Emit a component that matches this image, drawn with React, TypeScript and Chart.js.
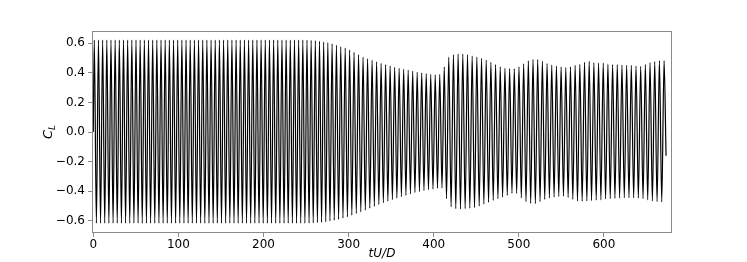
import React, { useEffect, useRef } from "react";
import { Chart, registerables } from "chart.js";

Chart.register(...registerables);

// Time of each positive peak of C_L (tU/D)
const peakTimes = [
  1.2, 6.1, 11.0, 15.9, 20.8, 25.7, 30.6, 35.5, 40.4, 45.3, 50.2, 55.1, 60.0, 64.9, 69.8, 74.7,
  79.6, 84.5, 89.4, 94.3, 99.2, 104.1, 109.0, 113.9, 118.8, 123.7, 128.6, 133.5, 138.4, 143.3,
  148.2, 153.1, 158.0, 162.9, 167.8, 172.7, 177.6, 182.5, 187.4, 192.3, 197.2, 202.1, 207.0,
  211.9, 216.8, 221.7, 226.6, 231.5, 236.4, 241.3, 246.2, 251.1, 256.0, 260.9, 265.8, 270.7,
  275.6,
  280.6, 285.7, 290.8, 296.0, 301.2, 306.4, 311.7, 317.0, 322.3, 327.6, 332.9, 338.2, 343.5,
  348.8, 354.1, 359.4, 364.7, 370.0, 375.3, 380.6, 385.9, 391.2, 396.5, 401.8, 407.1, 412.4,
  417.7,
  423.2, 428.7, 434.2, 439.7, 445.2, 450.7, 456.2, 461.7, 467.2, 472.7, 478.2, 483.7, 489.2,
  494.7, 500.2, 505.7, 511.2, 516.7, 522.2, 527.7, 533.2, 538.7, 544.2, 549.7, 555.2, 560.7,
  566.2, 571.7, 577.2, 582.7, 588.2, 593.7, 599.2, 604.7, 610.2, 615.7, 621.2, 626.7, 632.2,
  637.7, 643.2, 648.7, 654.2, 659.7, 665.2, 670.7,
];

// C_L at each positive peak
const peakValues = [
  0.62, 0.62, 0.62, 0.62, 0.62, 0.62, 0.62, 0.62, 0.62, 0.62, 0.62, 0.62, 0.62, 0.62, 0.62, 0.62,
  0.62, 0.62, 0.62, 0.62, 0.62, 0.62, 0.62, 0.62, 0.62, 0.62, 0.62, 0.62, 0.62, 0.62, 0.62, 0.62,
  0.62, 0.62, 0.62, 0.62, 0.62, 0.62, 0.62, 0.62, 0.62, 0.62, 0.62, 0.62, 0.62, 0.62, 0.62, 0.62,
  0.62, 0.62, 0.62, 0.62, 0.619, 0.617, 0.613, 0.608, 0.603,
  0.595, 0.586, 0.576, 0.566, 0.553, 0.538, 0.522, 0.505, 0.495, 0.485, 0.474, 0.464, 0.455,
  0.446, 0.437, 0.43, 0.424, 0.418, 0.411, 0.405, 0.399, 0.394, 0.39, 0.386, 0.39, 0.44, 0.505,
  0.522, 0.527, 0.526, 0.522, 0.513, 0.506, 0.498, 0.486, 0.471, 0.455, 0.44, 0.43, 0.428,
  0.428, 0.44, 0.46, 0.48, 0.49, 0.489, 0.478, 0.463, 0.452, 0.445, 0.44, 0.435, 0.44, 0.45,
  0.456, 0.47, 0.477, 0.468, 0.466, 0.465, 0.458, 0.455, 0.455, 0.452, 0.45, 0.45, 0.445,
  0.444, 0.455, 0.468, 0.476, 0.482, 0.482,
];

// C_L at each trough (between consecutive peaks)
const troughValues = [
  -0.615, -0.615, -0.615, -0.615, -0.615, -0.615, -0.615, -0.615, -0.615, -0.615, -0.615,
  -0.615, -0.615, -0.615, -0.615, -0.615, -0.615, -0.615, -0.615, -0.615, -0.615, -0.615,
  -0.615, -0.615, -0.615, -0.615, -0.615, -0.615, -0.615, -0.615, -0.615, -0.615, -0.615,
  -0.615, -0.615, -0.615, -0.615, -0.615, -0.615, -0.615, -0.615, -0.615, -0.615, -0.615,
  -0.615, -0.615, -0.615, -0.615, -0.615, -0.615, -0.615, -0.615, -0.614, -0.612, -0.61,
  -0.606, -0.601,
  -0.596, -0.59, -0.582, -0.573, -0.562, -0.55, -0.54, -0.528, -0.515, -0.502, -0.49, -0.478,
  -0.467, -0.457, -0.447, -0.437, -0.428, -0.418, -0.41, -0.403, -0.396, -0.39, -0.386, -0.38,
  -0.378, -0.45, -0.505,
  -0.518, -0.52, -0.518, -0.514, -0.51, -0.5, -0.487, -0.475, -0.462, -0.45, -0.44, -0.428,
  -0.415, -0.415, -0.445, -0.47, -0.482, -0.484, -0.47, -0.455, -0.445, -0.44, -0.435, -0.433,
  -0.442, -0.455, -0.466, -0.468, -0.466, -0.464, -0.46, -0.458, -0.452, -0.45, -0.448, -0.446,
  -0.444, -0.444, -0.444, -0.446, -0.45, -0.458, -0.466, -0.47, -0.472,
];

const startTime = 0;
const startValue = 0.0;
const endTime = 673;
const endValue = -0.16;

const xTicks = [0, 100, 200, 300, 400, 500, 600];
const xTickLabels = ["0", "100", "200", "300", "400", "500", "600"];
const yTicks = [-0.6, -0.4, -0.2, 0.0, 0.2, 0.4, 0.6];
const yTickLabels = ["\u22120.6", "\u22120.4", "\u22120.2", "0.0", "0.2", "0.4", "0.6"];

const xTitle = "tU/D";
const yTitleMain = "C";
const yTitleSub = "L";

const FONT = '"DejaVu Sans", sans-serif';
const FRAME = "#8a8a8a";

export default function App() {
  const ref = useRef<HTMLCanvasElement>(null);

  useEffect(() => {
    document.body.style.margin = "0";
    const canvas = ref.current;
    if (!canvas) return;

    const pts: { x: number; y: number }[] = [{ x: startTime, y: startValue }];
    for (let i = 0; i < peakTimes.length; i++) {
      pts.push({ x: peakTimes[i], y: peakValues[i] });
      if (i < troughValues.length && i + 1 < peakTimes.length) {
        pts.push({ x: (peakTimes[i] + peakTimes[i + 1]) / 2, y: troughValues[i] });
      }
    }
    pts.push({ x: endTime, y: endValue });

    const decor = {
      id: "decor",
      afterDraw(chart: any) {
        const { ctx, chartArea } = chart;
        ctx.save();
        ctx.strokeStyle = FRAME;
        ctx.lineWidth = 1;
        ctx.strokeRect(
          Math.round(chartArea.left) + 0.5,
          Math.round(chartArea.top) + 0.5,
          Math.round(chartArea.right - chartArea.left) - 1,
          Math.round(chartArea.bottom - chartArea.top) - 1
        );
        ctx.fillStyle = "#000";
        ctx.font = `italic 12px ${FONT}`;
        ctx.textAlign = "center";
        ctx.textBaseline = "middle";
        ctx.fillText(xTitle, (chartArea.left + chartArea.right) / 2, 254);

        ctx.translate(47, (chartArea.top + chartArea.bottom) / 2);
        ctx.rotate(-Math.PI / 2);
        ctx.font = `italic 13px ${FONT}`;
        const wC = ctx.measureText(yTitleMain).width;
        ctx.font = `italic 9px ${FONT}`;
        const wL = ctx.measureText(yTitleSub).width;
        const x0 = -(wC + wL) / 2;
        ctx.textAlign = "left";
        ctx.textBaseline = "alphabetic";
        ctx.font = `italic 13px ${FONT}`;
        ctx.fillText(yTitleMain, x0, 5);
        ctx.font = `italic 9px ${FONT}`;
        ctx.fillText(yTitleSub, x0 + wC, 8);
        ctx.restore();
      },
    };

    const chart = new Chart(canvas, {
      type: "line",
      data: {
        datasets: [
          {
            data: pts,
            borderColor: "#000",
            borderWidth: 1.2,
            pointRadius: 0,
            fill: false,
            cubicInterpolationMode: "monotone",
          },
        ],
      },
      options: {
        animation: false,
        responsive: false,
        devicePixelRatio: 1,
        layout: { padding: { left: 0, right: 75, top: 31, bottom: 0 } },
        plugins: { legend: { display: false }, tooltip: { enabled: false } },
        scales: {
          x: {
            type: "linear",
            min: -1.5,
            max: 680,
            afterBuildTicks: (s: any) => {
              s.ticks = xTicks.map((v) => ({ value: v }));
            },
            afterFit: (s: any) => {
              s.height = 29;
            },
            grid: { drawOnChartArea: false, tickLength: 4, color: FRAME },
            border: { display: false },
            ticks: {
              color: "#000",
              font: { family: FONT, size: 12 },
              padding: 1,
              maxRotation: 0,
              autoSkip: false,
              callback: (v: any) => {
                const i = xTicks.indexOf(Number(v));
                return i >= 0 ? xTickLabels[i] : "";
              },
            },
          },
          y: {
            type: "linear",
            min: -0.682,
            max: 0.682,
            afterBuildTicks: (s: any) => {
              s.ticks = yTicks.map((v) => ({ value: v }));
            },
            afterFit: (s: any) => {
              s.width = 92;
            },
            grid: { drawOnChartArea: false, tickLength: 4, color: FRAME },
            border: { display: false },
            ticks: {
              color: "#000",
              font: { family: FONT, size: 12 },
              padding: 3,
              autoSkip: false,
              callback: (v: any) => {
                const i = yTicks.findIndex((t) => Math.abs(t - Number(v)) < 1e-6);
                return i >= 0 ? yTickLabels[i] : "";
              },
            },
          },
        },
      },
      plugins: [decor],
    });

    return () => chart.destroy();
  }, []);

  return (
    <div style={{ width: 747, height: 262 }}>
      <canvas ref={ref} width={747} height={262} style={{ display: "block" }} />
    </div>
  );
}
